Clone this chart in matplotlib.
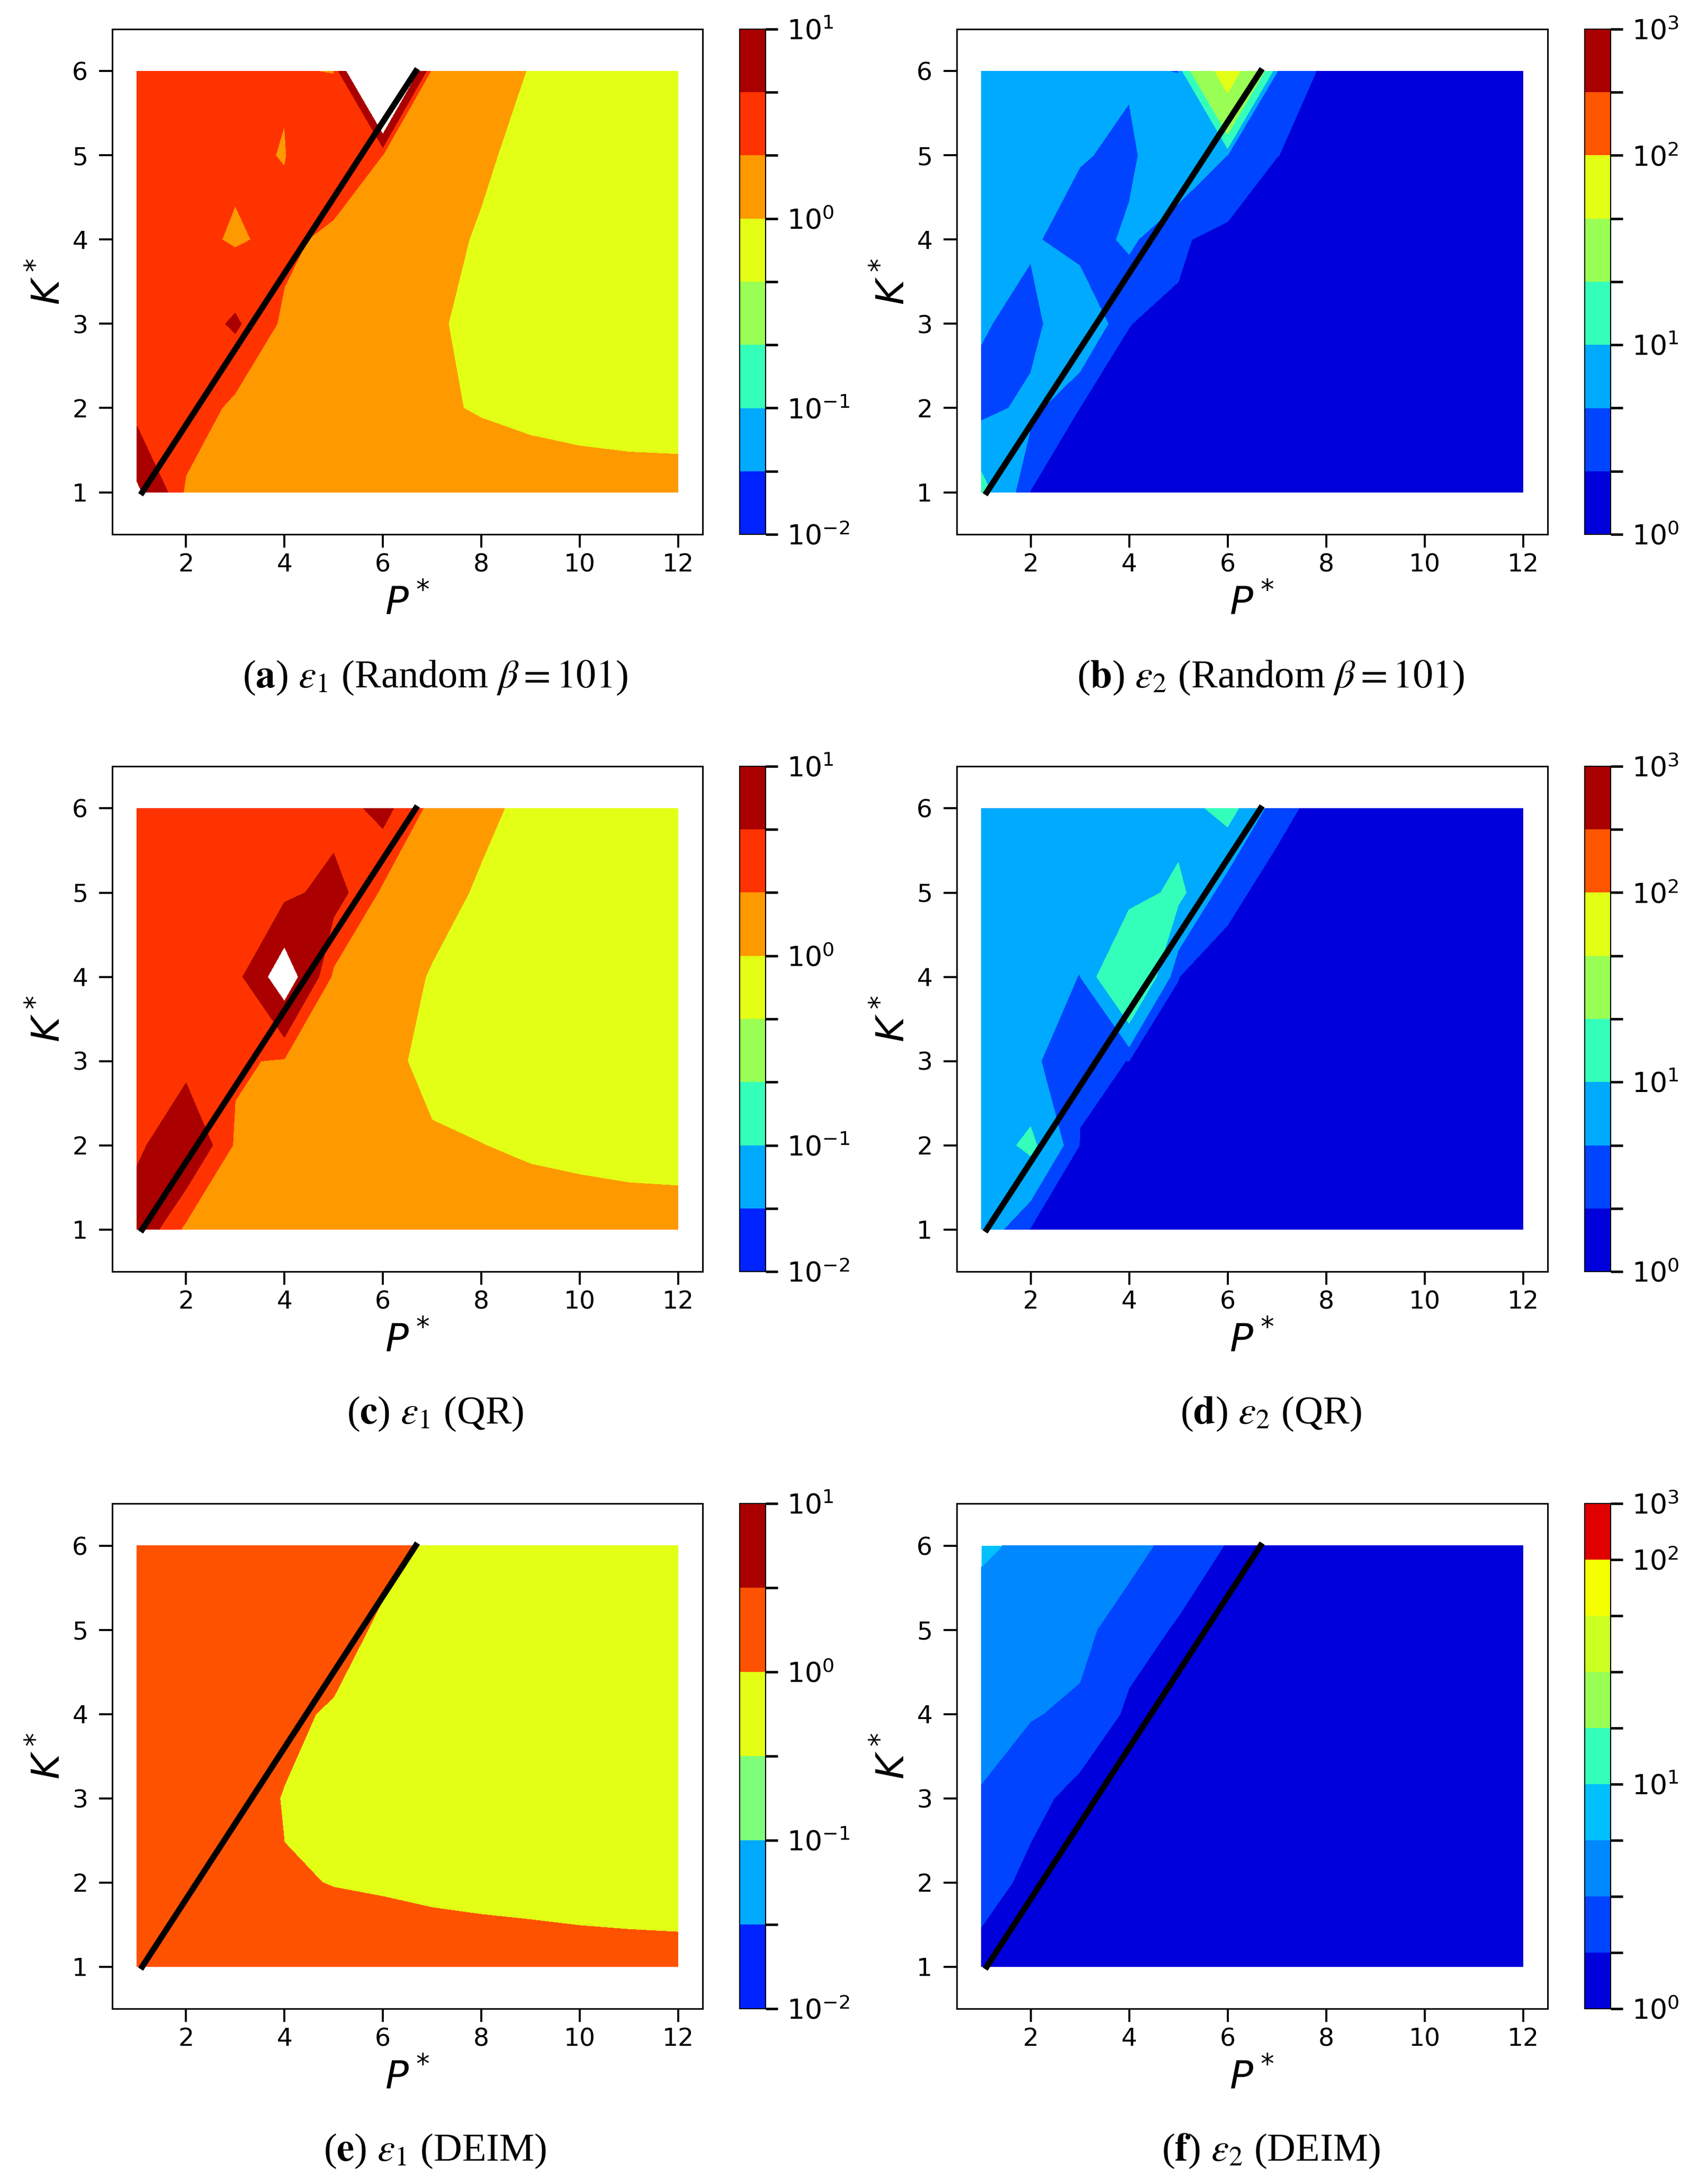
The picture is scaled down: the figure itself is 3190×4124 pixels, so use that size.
import numpy as np
import matplotlib
matplotlib.use('Agg')
import matplotlib.pyplot as plt
from matplotlib.ticker import FuncFormatter

P_vals = [1, 2, 3, 4, 5, 6, 7, 8, 9, 10, 11, 12]
K_vals = [1, 2, 3, 4, 5, 6]
line_P = [1.11, 6.67]
line_K = [1, 6]

# error grids, rows are K = 1..6, columns P = 1..12
eps1_random = [
    [11, 1.5, 1.45, 1.4, 1.38, 1.35, 1.33, 1.27, 1.25, 1.22, 1.22, 1.23],
    [3.4, 4, 1.26, 1.22, 1.2, 1.15, 1.064, 0.964, 0.88, 0.82, 0.76, 0.72],
    [3, 3, 5.5, 1.39, 1.25, 1.15, 1.05, 0.9, 0.75, 0.65, 0.6, 0.55],
    [3, 3, 1.63, 2.8, 1.1, 1.07, 1.04, 0.987, 0.92, 0.85, 0.8, 0.75],
    [3, 3, 2.55, 1.88, 4.9, 1.97, 1.3, 1.02, 0.96, 0.93, 0.88, 0.82],
    [3, 3, 3, 2.22, 1.9, 34, 1.15, 1.1, 0.99, 0.96, 0.92, 0.88],
]
eps2_random = [
    [12, 1.9, 1.7, 1.6, 1.5, 1.5, 1.4, 1.4, 1.3, 1.3, 1.3, 1.3],
    [3.76, 6, 1.97, 1.6, 1.5, 1.4, 1.35, 1.3, 1.25, 1.2, 1.2, 1.2],
    [5.4, 3.6, 9, 2.02, 1.7, 1.45, 1.4, 1.3, 1.25, 1.2, 1.2, 1.2],
    [7, 5.54, 3.2, 5.63, 2.3, 1.2, 1.2, 1.2, 1.2, 1.2, 1.2, 1.2],
    [7, 7, 5.3, 4.2, 8.6, 4.95, 2.02, 1.6, 1.5, 1.4, 1.3, 1.3],
    [7, 7, 7, 5.5, 4.9, 65.8, 5.05, 1.24, 1.2, 1.2, 1.2, 1.2],
]
eps1_qr = [
    [8, 1.31, 1.3, 1.3, 1.33, 1.35, 1.35, 1.35, 1.35, 1.28, 1.25, 1.27],
    [4, 9, 1.63, 1.55, 1.4, 1.25, 1.12, 1.01, 0.9, 0.85, 0.8, 0.75],
    [3, 3.6, 2.33, 1.7, 1.5, 1.28, 0.72, 0.65, 0.62, 0.6, 0.58, 0.55],
    [3, 3, 3.5, 13.4, 1.4, 1.2, 0.97, 0.92, 0.87, 0.8, 0.75, 0.7],
    [3, 3, 3, 3.9, 6.5, 1.5, 1.15, 0.95, 0.88, 0.83, 0.78, 0.74],
    [3, 3, 3, 3, 3.3, 6.1, 1.1, 1.09, 0.9, 0.88, 0.85, 0.8],
]
eps2_qr = [
    [7.6, 1.8, 1.6, 1.5, 1.5, 1.4, 1.3, 1.3, 1.2, 1.2, 1.2, 1.2],
    [7, 11.2, 1.93, 1.7, 1.5, 1.4, 1.3, 1.2, 1.2, 1.15, 1.1, 1.1],
    [7, 5.75, 2.27, 1.98, 1.6, 1.4, 1.3, 1.2, 1.2, 1.15, 1.1, 1.1],
    [7, 7, 4.9, 19.9, 2.02, 1.05, 1.05, 1.1, 1.1, 1.1, 1.1, 1.1],
    [7, 7, 7, 7.5, 11.4, 2.6, 1.14, 1.1, 1.1, 1.1, 1.1, 1.1],
    [7, 7, 7, 7, 7.5, 12.1, 2.7, 1.14, 1.1, 1.1, 1.1, 1.1],
]
eps1_deim = [
    [2, 2, 1.8, 1.7, 1.5, 1.5, 1.47, 1.49, 1.48, 1.41, 1.38, 1.37],
    [2, 2, 1.5, 1.1, 0.97, 0.9, 0.8, 0.7, 0.62, 0.57, 0.52, 0.47],
    [2, 2, 2.1, 0.89, 0.7, 0.6, 0.55, 0.5, 0.48, 0.46, 0.44, 0.42],
    [2, 2, 2, 1.62, 0.65, 0.55, 0.5, 0.48, 0.46, 0.44, 0.42, 0.4],
    [2, 2, 2, 2, 2.4, 0.4, 0.5, 0.47, 0.44, 0.42, 0.4, 0.38],
    [2, 2, 2, 2, 2, 2.1, 0.57, 0.5, 0.45, 0.42, 0.4, 0.38],
]
eps2_deim = [
    [1.14, 1.1, 1.1, 1.1, 1.1, 1.1, 1.1, 1.1, 1.1, 1.1, 1.1, 1.1],
    [2.5, 1.36, 1.2, 1.15, 1.15, 1.1, 1.1, 1.1, 1.1, 1.1, 1.1, 1.1],
    [2.95, 2.25, 1.27, 1.2, 1.15, 1.15, 1.1, 1.1, 1.1, 1.1, 1.1, 1.1],
    [4.2, 3.25, 2.9, 1.53, 1.4, 1.3, 1.2, 1.15, 1.1, 1.1, 1.1, 1.1],
    [4.5, 4.2, 3.6, 2.34, 1.64, 1.4, 1.3, 1.2, 1.2, 1.15, 1.1, 1.1],
    [6, 5.1, 4.6, 3.8, 2.52, 1.72, 1.5, 1.4, 1.3, 1.3, 1.25, 1.2],
]

levels_a = [0.01, 0.03, 0.1, 0.2, 0.5, 1, 2, 5, 10]
levels_b = [1, 2, 5, 10, 20, 50, 100, 300, 1000]
levels_e = [0.01, 0.0316, 0.1, 0.316, 1, 3.16, 10]
levels_f = [1, 1.78, 3.16, 5.62, 10, 17.8, 31.6, 56.2, 100, 1000]

colors_a = ['#0022ff', '#00aaff', '#33ffbb', '#99ff55', '#e3ff15', '#ff9900', '#ff3300', '#aa0000']
colors_b = ['#0000dd', '#0044ff', '#00aaff', '#33ffbb', '#99ff55', '#e3ff15', '#ff5500', '#aa0000']
colors_e = ['#0022ff', '#00aaff', '#7dff7a', '#e3ff15', '#ff5200', '#aa0000']
colors_f = ['#0000dd', '#0044ff', '#0088ff', '#00c0ff', '#33ffbb', '#99ff55', '#ccff22', '#f5ff00', '#e00000']

captions = [
    r"(${\bf a}$) $\epsilon_1$ (Random $\beta = 101$)",
    r"(${\bf b}$) $\epsilon_2$ (Random $\beta = 101$)",
    r"(${\bf c}$) $\epsilon_1$ (QR)",
    r"(${\bf d}$) $\epsilon_2$ (QR)",
    r"(${\bf e}$) $\epsilon_1$ (DEIM)",
    r"(${\bf f}$) $\epsilon_2$ (DEIM)",
]

W, H = 3190, 4124
DPI = 300
col_left = [212, 1807]
col_right = [1327, 2923]
cbar_left = [1397, 2993]
cbar_right = [1446, 3042]
row_top = [55, 1447, 2839]
row_bottom = [1009, 2401, 3793]
caption_x = [822, 2400]
caption_y = [1280, 2670, 4062]

panels = [
    (eps1_random, levels_a, colors_a),
    (eps2_random, levels_b, colors_b),
    (eps1_qr, levels_a, colors_a),
    (eps2_qr, levels_b, colors_b),
    (eps1_deim, levels_e, colors_e),
    (eps2_deim, levels_f, colors_f),
]


def px_axes(fig, left, right, top, bottom):
    return fig.add_axes([left / W, 1 - bottom / H, (right - left) / W, (bottom - top) / H])


def decade_label(v, pos):
    e = np.log10(v)
    if abs(e - round(e)) < 1e-3:
        return rf"$10^{{{int(round(e))}}}$"
    return ""


fig = plt.figure(figsize=(W / DPI, H / DPI), dpi=DPI)

for i, (z, levels, colors) in enumerate(panels):
    row, col = i // 2, i % 2
    ax = px_axes(fig, col_left[col], col_right[col], row_top[row], row_bottom[row])
    cf = ax.contourf(P_vals, K_vals, np.array(z), levels=levels, colors=colors)
    ax.plot(line_P, line_K, color='black', linewidth=2.7)
    ax.set_xlim(0.5, 12.5)
    ax.set_ylim(0.5, 6.5)
    ax.set_xticks([2, 4, 6, 8, 10, 12])
    ax.set_yticks(K_vals)
    ax.tick_params(labelsize=11.3, length=6, width=0.9, pad=5)
    ax.tick_params(axis='x', pad=2.5)
    ax.set_xlabel(r"$P^*$", fontsize=17.5, labelpad=3)
    ax.set_ylabel(r"$K^*$", fontsize=17.5, labelpad=2)
    for s in ax.spines.values():
        s.set_linewidth(0.7)

    cax = px_axes(fig, cbar_left[col], cbar_right[col], row_top[row], row_bottom[row])
    cb = fig.colorbar(cf, cax=cax, ticks=levels, format=FuncFormatter(decade_label))
    cb.minorticks_off()
    cb.ax.tick_params(labelsize=12.5, length=5.5, width=1.1, pad=4)
    cb.outline.set_linewidth(0.5)

    fig.text(caption_x[col] / W, 1 - caption_y[row] / H, captions[i], ha='center', va='center',
             fontsize=17.9, family='Liberation Serif', math_fontfamily='stix')

fig.savefig('out.png', dpi=DPI)
